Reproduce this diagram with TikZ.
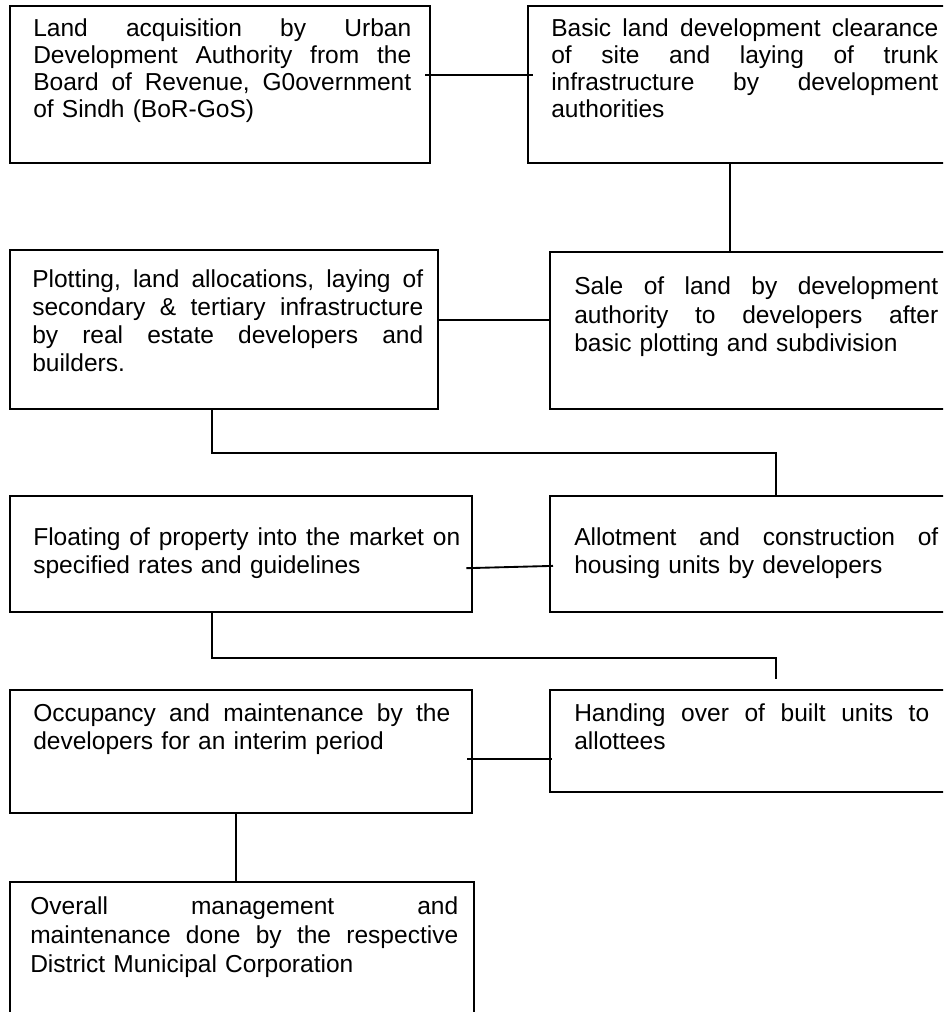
\documentclass[tikz,border=0pt]{standalone}
\usepackage{fontspec}
\setmainfont{Liberation Sans}
\usetikzlibrary{fit,calc}
\newlength{\tw}
\newcommand{\jl}[1]{\leavevmode\hbox to \tw{#1}\\}
\begin{document}
\begin{tikzpicture}[x=0.75pt,y=-0.75pt,
  boxnode/.style={draw, line width=1.5pt, inner sep=0pt},
  tw/.style={text width=#1, execute at begin node={\setlength{\tw}{#1}}},
  txt/.style={anchor=base west, inner sep=0pt, align=left, font=\fontsize{18.4pt}{21.2pt}\selectfont},
  txttop/.style={txt, font=\fontsize{18.4pt}{20.25pt}\selectfont},
  conn/.style={line width=1.4pt}]
\useasboundingbox (0,0) rectangle (943,1012);
\clip (0,0) rectangle (943,1012);

% boxes
\node[boxnode, fit={(10,6) (430,163)}] (A) {};
\node[boxnode, fit={(528,6) (955,163)}] (B) {};
\node[boxnode, fit={(10,250) (438,409)}] (P) {};
\node[boxnode, fit={(550,252) (955,409)}] (S) {};
\node[boxnode, fit={(10,496) (472,612)}] (F) {};
\node[boxnode, fit={(550,496) (955,612)}] (L) {};
\node[boxnode, fit={(10,690) (472,813)}] (O) {};
\node[boxnode, fit={(550,690) (955,792)}] (H) {};
\node[boxnode, fit={(10,882) (474,1040)}] (M) {};

% texts
\node[txttop, tw=283.5pt] (tA) at (33,37)
 {\jl{Land\hfill acquisition\hfill by\hfill Urban}\jl{Development\hfill Authority\hfill from\hfill the}\jl{Board\hfill of\hfill Revenue,\hfill G0overnment}of Sindh (BoR-GoS)};
\node[txttop, tw=290.25pt] (tB) at (551,37)
 {\jl{Basic\hfill land\hfill development\hfill clearance}\jl{of\hfill site\hfill and\hfill laying\hfill of\hfill trunk}\jl{infrastructure\hfill by\hfill development}authorities};
\node[txt, tw=293.25pt] (tP) at (32,287)
 {\jl{Plotting,\hfill land\hfill allocations,\hfill laying\hfill of}\jl{secondary\hfill \&\hfill tertiary\hfill infrastructure}\jl{by\hfill real\hfill estate\hfill developers\hfill and}builders.};
\node[txt, tw=273pt] (tS) at (574,295)
 {\jl{Sale\hfill of\hfill land\hfill by\hfill development}\jl{authority\hfill to\hfill developers\hfill after}basic plotting and subdivision};
\node[txt, tw=320.25pt] (tF) at (33,545)
 {\jl{Floating\hfill of\hfill property\hfill into\hfill the\hfill market\hfill on}specified rates and guidelines};
\node[txt, tw=273pt] (tL) at (574,545)
 {\jl{Allotment\hfill and\hfill construction\hfill of}housing units by developers};
\node[txt, tw=312.75pt] (tO) at (33,721)
 {\jl{Occupancy\hfill and\hfill maintenance\hfill by\hfill the}developers for an interim period};
\node[txt, tw=266.25pt] (tH) at (574,721)
 {\jl{Handing\hfill over\hfill of\hfill built\hfill units\hfill to}allottees};
\node[txt, tw=321pt, font=\fontsize{18.4pt}{22pt}\selectfont] (tM) at (30,914)
 {\jl{Overall\hfill management\hfill and}\jl{maintenance\hfill done\hfill by\hfill the\hfill respective}District Municipal Corporation};

% connectors
\coordinate (cAB) at (0,75);
\draw[conn, shorten <=-4.5pt, shorten >=-4.5pt] (A.east |- cAB) -- (B.west |- cAB);
\coordinate (cBS) at (730,0);
\draw[conn] (B.south -| cBS) -- (S.north -| cBS);
\coordinate (cPS) at (0,320);
\draw[conn] (P.east |- cPS) -- (S.west |- cPS);
\coordinate (k1) at (212,453);
\coordinate (k2) at (776,453);
\draw[conn] (P.south -| k1) -- (k1) -- (k2) -- (L.north -| k2);
\coordinate (cFA1) at (0,568);
\coordinate (cFA2) at (0,566);
\draw[conn, shorten <=-5pt, shorten >=-3pt] (F.east |- cFA1) -- (L.west |- cFA2);
\coordinate (k3) at (212,658);
\coordinate (k4) at (776,658);
\draw[conn, shorten >=7.5pt] (F.south -| k3) -- (k3) -- (k4) -- (H.north -| k4);
\coordinate (cOH) at (0,759);
\draw[conn, shorten <=-4.5pt, shorten >=-2.25pt] (O.east |- cOH) -- (H.west |- cOH);
\coordinate (cOM) at (236,0);
\draw[conn] (O.south -| cOM) -- (M.north -| cOM);
\end{tikzpicture}
\end{document}
